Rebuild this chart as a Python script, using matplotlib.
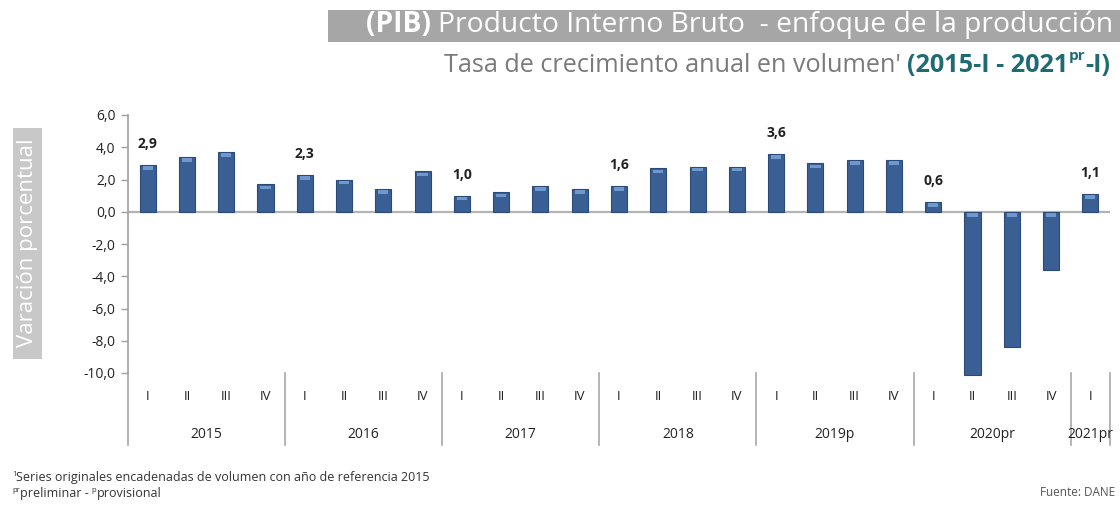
import matplotlib
matplotlib.use("Agg")
import matplotlib.pyplot as plt
from matplotlib.patches import Rectangle
from matplotlib.ticker import FuncFormatter, FixedLocator

plt.rcParams['font.family'] = ['Open Sans', 'DejaVu Sans']
plt.rcParams['mathtext.default'] = 'regular'

# data
years = ['2015', '2016', '2017', '2018', '2019p', '2020pr', '2021pr']
quarters = ['I', 'II', 'III', 'IV'] * 6 + ['I']
values = [2.9, 3.4, 3.7, 1.7,
          2.3, 2.0, 1.4, 2.5,
          1.0, 1.2, 1.6, 1.4,
          1.6, 2.7, 2.8, 2.8,
          3.6, 3.0, 3.2, 3.2,
          0.6, -10.1, -8.4, -3.6,
          1.1]
labeled = [0, 4, 8, 12, 16, 20, 24]

W, H = 1120, 505
fig = plt.figure(figsize=(W / 100, H / 100), dpi=100)
ax = fig.add_axes([128 / W, 1 - 373 / H, (1110 - 128) / W, (373 - 115) / H])

x = list(range(len(values)))
bars = ax.bar(x, values, width=0.41, color='#3a5f94', edgecolor='#2b4a77', linewidth=0.8,
              zorder=3, clip_on=False)
# light highlight at the top end of each bar
for xi, v in zip(x, values):
    top = max(v, 0)
    ax.bar(xi, 0.22, bottom=top - 0.3, width=0.26, color='#6f98cf', linewidth=0, zorder=4,
           clip_on=False)

ax.set_xlim(-0.5, len(values) - 0.5)
ax.set_ylim(-10.0, 6.0)
ax.yaxis.set_major_locator(FixedLocator([6, 4, 2, 0, -2, -4, -6, -8, -10]))
ax.yaxis.set_major_formatter(FuncFormatter(lambda v, p: f"{v:.1f}".replace('.', ',')))
ax.tick_params(axis='y', length=5, width=1, color='#a0a0a0', labelsize=10, labelcolor='#222222', pad=4)
ax.set_xticks([])
for s in ['top', 'right', 'bottom']:
    ax.spines[s].set_visible(False)
ax.spines['left'].set_color('#a0a0a0')
ax.spines['left'].set_linewidth(1.2)

ax.axhline(0, color='#b4b4b4', linewidth=1.6, zorder=2)

for i in labeled:
    ax.annotate(f"{values[i]:.1f}".replace('.', ','), (i, max(values[i], 0)),
                xytext=(0, 10), textcoords='offset points', ha='center', va='bottom',
                fontsize=10, fontweight='bold', color='#222222')

# category axis (quarters and years)
trans = ax.get_xaxis_transform()
y_sep_bottom = -(445 - 373) / (373 - 115)
y_q = -(397 - 373) / (373 - 115)
y_y = -(434 - 373) / (373 - 115)
seps = [-0.5] + [3.5 + 4 * k for k in range(6)] + [24.5]
for s in seps:
    ax.plot([s, s], [0, y_sep_bottom], transform=trans, color='#a8a8a8', lw=1.2, clip_on=False)
for xi, q in zip(x, quarters):
    ax.text(xi, y_q, q, transform=trans, ha='center', va='center', fontsize=9.5, color='#222222')
for k, yr in enumerate(years):
    if k < 6:
        cx = 4 * k + 1.5
    else:
        cx = 24
    ax.text(cx, y_y, yr, transform=trans, ha='center', va='center', fontsize=10, color='#222222')

# y label box
fig.patches.append(Rectangle((13 / W, 1 - 359 / H), 29 / W, 231 / H, transform=fig.transFigure,
                             facecolor='#c8c8c8', edgecolor='none'))
fig.text(28 / W, 1 - 243 / H, 'Varación porcentual', rotation=90, ha='center', va='center',
         fontsize=16, color='white')

# title box
fig.patches.append(Rectangle((328 / W, 1 - 42 / H), (W - 328) / W, 32 / H, transform=fig.transFigure,
                             facecolor='#a6a6a6', edgecolor='none'))

renderer = fig.canvas.get_renderer()


def chain(parts, x_right, y, **common):
    # place text pieces right to left, ending at x_right (pixels)
    xr = x_right
    for txt, kw in reversed(parts):
        opts = dict(common)
        opts.update(kw)
        dy = opts.pop('dy', 0)
        t = fig.text(xr / W, 1 - (y - dy) / H, txt, ha='right', va='center', **opts)
        bb = t.get_window_extent(renderer=renderer)
        xr = xr - bb.width


def chain_left(parts, x_left, y, **common):
    xl = x_left
    for txt, kw in parts:
        opts = dict(common)
        opts.update(kw)
        dy = opts.pop('dy', 0)
        t = fig.text(xl / W, 1 - (y - dy) / H, txt, ha='left', va='center', **opts)
        xl = xl + t.get_window_extent(renderer=renderer).width


chain([('(PIB) ', dict(fontweight='bold')),
       ('Producto Interno Bruto  - enfoque de la producción', dict())],
      1113, 25, fontsize=20.3, color='white')

chain([("Tasa de crecimiento anual en volumen' ", dict(color='#7a7a7a')),
       ('(2015-I - 2021', dict(color='#1f6b73', fontweight='bold')),
       ('pr', dict(color='#1f6b73', fontweight='bold', fontsize=11, dy=9)),
       ('-I)', dict(color='#1f6b73', fontweight='bold'))],
      1110, 65, fontsize=18.2)

chain_left([('1', dict(fontsize=5.5, dy=3)),
            ('Series originales encadenadas de volumen con año de referencia 2015', dict())],
           12, 478, fontsize=9, color='#333333')
chain_left([('pr', dict(fontsize=5.5, dy=3)),
            ('preliminar - ', dict()),
            ('p', dict(fontsize=5.5, dy=3)),
            ('provisional', dict())],
           12, 494, fontsize=9, color='#333333')
fig.text(1115 / W, 1 - 493 / H, 'Fuente: DANE', fontsize=8.5, color='#555555', va='center', ha='right')

fig.savefig('out.png', dpi=100)
